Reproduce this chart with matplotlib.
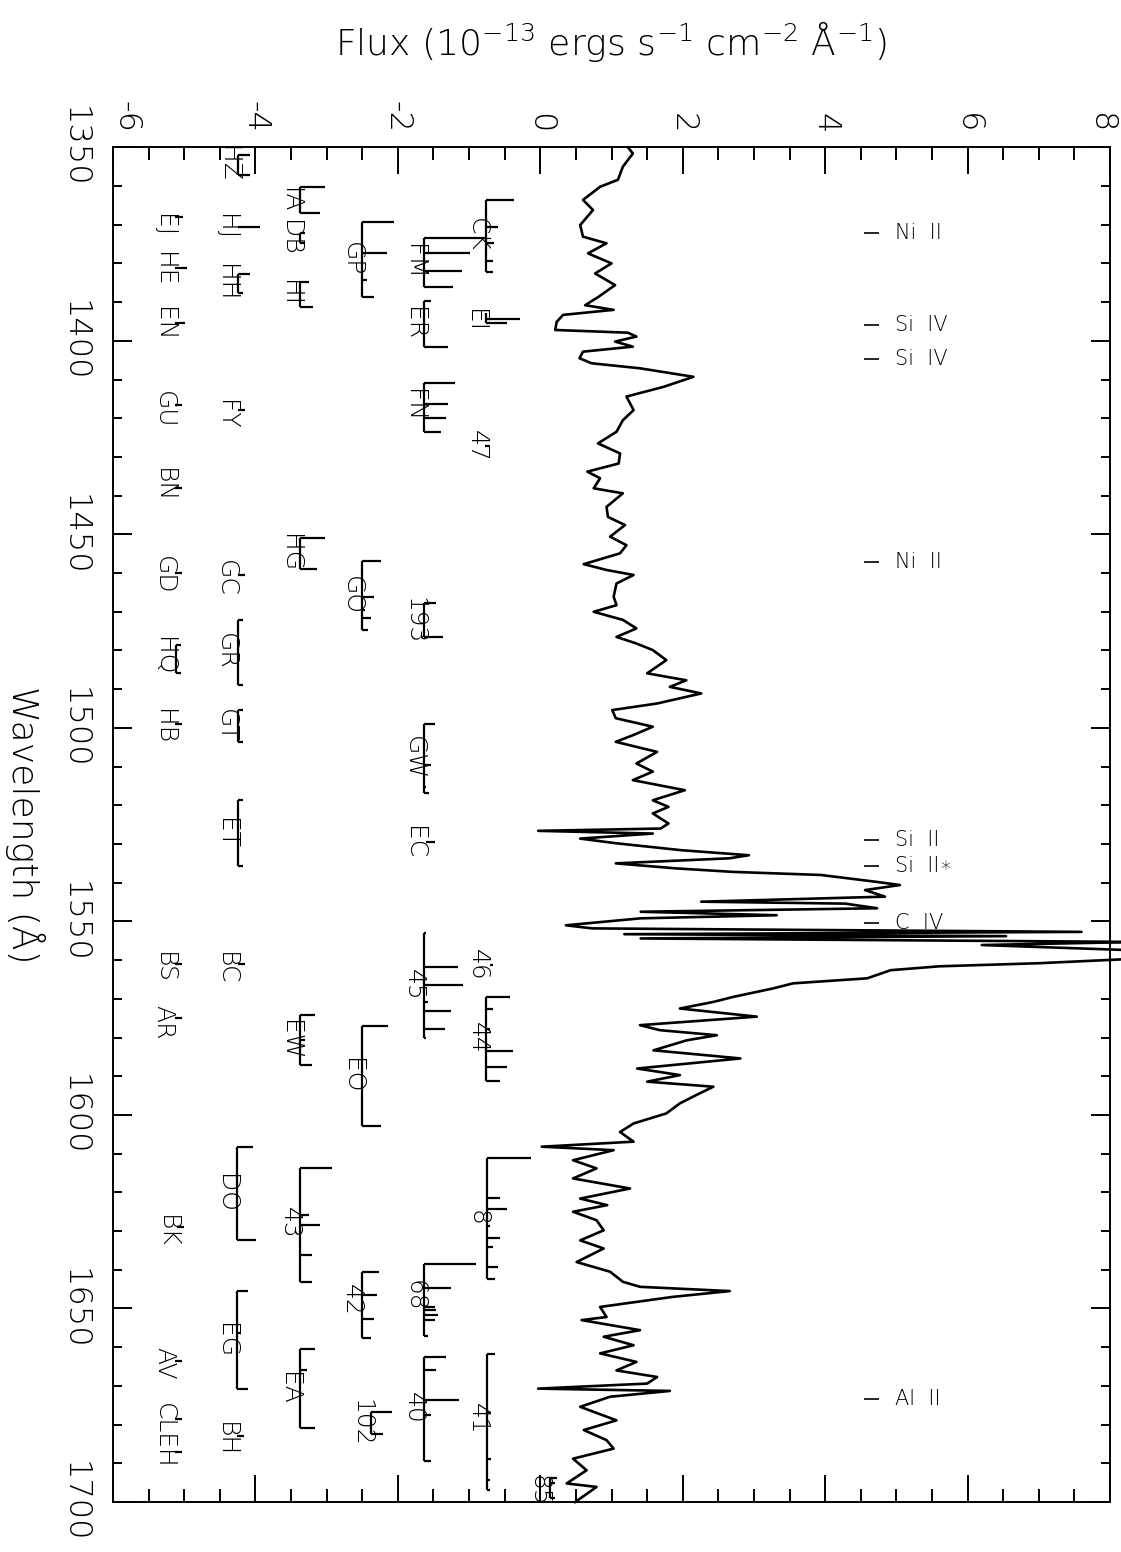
import matplotlib
matplotlib.use('Agg')
import matplotlib.pyplot as plt
import matplotlib.transforms as mtransforms
from matplotlib.ticker import MultipleLocator

plt.rcParams['font.family'] = ['DejaVu Sans']
plt.rcParams['font.weight'] = 200
plt.rcParams['axes.unicode_minus'] = False
plt.rcParams['mathtext.default'] = 'regular'

# spectrum (wavelength in A, flux in 1e-13 erg/s/cm2/A)
wave = [1350.0, 1351.6, 1355.0, 1358.4, 1360.2, 1363.6, 1366.2, 1370.1, 1373.1, 1374.8,
        1377.4, 1380.0, 1382.6, 1385.6, 1388.6, 1390.8, 1392.0, 1393.3, 1395.1, 1397.2,
        1397.9, 1398.9, 1400.2, 1401.5, 1402.8, 1404.5, 1405.8, 1407.1, 1409.3, 1411.9,
        1414.4, 1417.9, 1420.5, 1423.5, 1426.5, 1429.1, 1431.7, 1433.8, 1435.5, 1438.1,
        1439.4, 1442.9, 1445.5, 1447.6, 1450.6, 1452.8, 1454.9, 1457.7, 1459.2, 1460.5,
        1462.7, 1466.1, 1468.3, 1470.0, 1472.1, 1474.3, 1476.5, 1478.2, 1479.9, 1482.5,
        1485.9, 1487.7, 1489.4, 1491.1, 1493.7, 1495.4, 1497.5, 1499.7, 1501.9, 1503.6,
        1506.2, 1509.2, 1511.3, 1513.5, 1516.1, 1518.7, 1520.4, 1522.1, 1524.7, 1526.0,
        1526.6, 1527.3, 1528.6, 1529.8, 1531.6, 1532.9, 1533.7, 1535.0, 1536.3, 1537.2,
        1538.0, 1539.8, 1540.6, 1541.9, 1543.6, 1544.9, 1545.4, 1546.6, 1547.5, 1548.4,
        1549.2, 1551.0, 1551.8, 1552.7, 1553.3, 1553.8, 1554.4, 1555.3, 1556.1, 1557.5,
        1559.6, 1560.8, 1561.6, 1562.6, 1564.7, 1566.0, 1567.3, 1569.5, 1570.8, 1572.5,
        1574.6, 1576.8, 1578.1, 1579.4, 1580.7, 1583.3, 1585.4, 1588.0, 1589.7, 1591.4,
        1592.7, 1594.4, 1597.0, 1599.6, 1602.2, 1604.4, 1606.9, 1608.2, 1609.1, 1611.7,
        1613.8, 1616.4, 1619.0, 1621.6, 1623.3, 1625.0, 1627.2, 1629.8, 1632.4, 1634.5,
        1638.0, 1640.5, 1643.1, 1644.4, 1645.5, 1647.0, 1649.6, 1652.2, 1653.0, 1655.6,
        1657.3, 1659.5, 1661.6, 1663.8, 1666.0, 1667.7, 1669.4, 1670.7, 1671.3, 1672.8,
        1675.4, 1678.9, 1681.4, 1684.0, 1686.2, 1688.8, 1691.8, 1695.2, 1696.1, 1700.0]
flux = [1.23, 1.30, 1.16, 1.09, 0.84, 0.60, 0.74, 0.56, 0.60, 0.93,
        0.67, 1.00, 0.77, 1.05, 0.82, 0.63, 1.03, 0.32, 0.23, 0.21,
        1.23, 1.35, 1.05, 1.30, 0.60, 0.55, 0.72, 1.40, 2.15, 1.73,
        1.21, 1.31, 1.16, 1.07, 0.81, 1.12, 1.10, 0.66, 0.84, 0.75,
        1.16, 0.93, 0.95, 1.19, 0.98, 1.21, 1.12, 0.61, 0.93, 1.31,
        1.07, 1.03, 1.07, 0.75, 1.16, 1.35, 1.07, 1.35, 1.58, 1.77,
        1.50, 2.05, 1.82, 2.26, 1.64, 1.01, 1.06, 1.58, 1.30, 1.06,
        1.64, 1.35, 1.58, 1.30, 2.03, 1.58, 1.80, 1.58, 1.80, 1.69,
        -0.03, 1.58, 0.56, 1.06, 1.98, 2.93, 2.65, 1.06, 1.91, 2.70,
        3.94, 4.73, 5.05, 4.56, 4.84, 2.26, 4.28, 4.73, 1.41, 3.32,
        1.41, 0.36, 0.73, 7.60, 1.18, 6.54, 1.41, 8.40, 6.20, 8.40,
        8.40, 7.00, 5.60, 4.92, 4.59, 3.55, 3.27, 2.71, 2.43, 1.96,
        3.04, 1.40, 1.68, 2.48, 2.06, 1.59, 2.81, 1.36, 1.96, 1.50,
        2.43, 2.24, 1.96, 1.77, 1.31, 1.12, 1.31, 0.02, 1.03, 0.46,
        0.79, 0.46, 1.26, 0.56, 0.94, 0.46, 0.79, 0.89, 0.56, 0.89,
        0.51, 0.98, 1.16, 1.40, 2.66, 1.86, 0.84, 0.93, 0.58, 1.40,
        0.89, 1.31, 0.84, 1.35, 1.07, 1.64, 1.50, -0.03, 1.82, 0.98,
        0.56, 1.07, 0.61, 0.93, 1.03, 0.46, 0.65, 0.37, 0.79, 0.49]

# flux axis labels along the top
flux_ticks = [-6, -4, -2, 0, 2, 4, 6, 8]

# ions marked on the right
ion_names = ['Ni  II', 'Si  IV', 'Si  IV', 'Ni  II', 'Si  II', 'Si  II\u2217', 'C  IV', 'Al  II']
ion_waves = [1372.1, 1395.9, 1404.8, 1457.1, 1529.0, 1535.7, 1550.5, 1673.4]

# line-id labels: text, flux position, wavelength
id_text = ['HZ', 'IA', 'CK', 'HJ', 'DB', 'EJ', 'FM', 'GP', 'HE', 'HH', 'HI', 'ER', 'EI', 'EN',
           'FN', 'GU', 'FY', '47', 'BN', 'HG', 'GD', 'GC', 'GO', '193', 'HQ', 'GR', 'HB', 'GT',
           'GW', 'EC', 'ET', 'BC', 'BS', 'AR', '45', '46', '44', 'EO', 'EW', '8', 'DO', '43',
           'BK', '68', '42', 'EG', 'EA', '40', '102', '41', 'AV', 'BH', 'CLEH', '85']
id_flux = [-4.39, -3.52, -0.89, -4.41, -3.52, -5.29, -1.77, -2.64, -5.29, -4.41, -3.52, -1.77, -0.91, -5.29,
           -1.77, -5.29, -4.41, -0.89, -5.29, -3.52, -5.29, -4.41, -2.64, -1.77, -5.29, -4.41, -5.29, -4.41,
           -1.77, -1.78, -4.41, -4.41, -5.29, -5.29, -1.78, -0.88, -0.88, -2.65, -3.52, -0.88, -4.41, -3.52,
           -5.25, -1.77, -2.65, -4.41, -3.53, -1.77, -2.52, -0.88, -5.28, -4.41, -5.28, -0.02]
id_wave = [1354.3, 1363.6, 1372.7, 1370.5, 1373.5, 1370.1, 1379.7, 1378.9, 1381.4, 1385.1, 1387.7, 1395.5, 1394.8, 1395.7,
           1416.6, 1417.9, 1419.2, 1427.2, 1437.3, 1454.9, 1460.5, 1461.5, 1465.7, 1472.3, 1481.6, 1480.3, 1499.7, 1499.5,
           1507.9, 1529.6, 1527.2, 1562.1, 1562.1, 1576.0, 1566.5, 1561.3, 1580.2, 1589.8, 1580.7, 1626.7, 1620.3, 1628.0,
           1630.2, 1646.7, 1647.8, 1658.4, 1670.7, 1675.8, 1679.5, 1678.4, 1664.2, 1684.0, 1682.9, 1697.0]

# multiplet brackets: spine flux, tick wavelengths, tick end fluxes
br_base = [-4.24, -3.38, -0.76, -3.38, -1.63, -2.50, -4.24, -3.38, -1.63, -0.76,
           -1.63, -3.38, -2.50, -1.63, -5.11, -4.24, -4.24, -1.63, -4.24, -1.63,
           -0.76, -2.51, -3.38, -0.75, -4.26, -3.38, -1.63, -2.51, -4.26, -3.38,
           -1.63, -2.38, -0.75, 0.13]
br_waves = [[1352.0, 1357.2], [1360.3, 1367.1], [1363.6, 1370.5, 1374.8, 1379.4, 1382.1],
            [1372.2, 1374.8], [1373.5, 1377.4, 1381.9, 1386.0], [1369.2, 1377.4, 1384.3, 1388.6],
            [1382.7, 1387.6], [1384.9, 1391.2], [1389.7, 1401.5], [1392.9, 1394.4, 1395.3],
            [1411.0, 1416.2, 1420.0, 1423.5], [1450.9, 1459.0],
            [1456.9, 1466.1, 1469.6, 1471.7, 1474.7], [1467.7, 1476.6], [1478.6, 1485.9],
            [1472.1, 1488.9], [1495.4, 1503.6], [1499.0, 1509.6, 1515.2, 1516.9], [1518.7, 1535.8],
            [1553.1, 1561.7, 1566.5, 1570.8, 1573.1, 1577.7, 1580.0],
            [1569.6, 1572.5, 1577.7, 1583.4, 1587.7, 1591.3], [1577.0, 1602.8], [1574.2, 1580.7, 1587.1],
            [1611.2, 1621.4, 1624.4, 1628.7, 1631.9, 1634.1, 1639.3, 1642.4], [1608.2, 1632.3],
            [1613.8, 1625.9, 1628.5, 1636.2, 1643.1],
            [1638.4, 1644.7, 1649.6, 1650.4, 1651.7, 1653.0, 1657.1], [1640.5, 1646.4, 1652.6, 1657.6],
            [1645.5, 1656.3, 1670.9], [1660.5, 1665.9, 1680.9], [1662.5, 1665.9, 1673.7, 1677.6, 1689.5],
            [1676.7, 1682.3], [1661.8, 1677.1, 1689.0, 1694.4, 1697.0], [1693.9, 1695.2, 1699.0]]
br_ends = [[-4.08, -4.08], [-3.02, -3.09], [-0.37, -0.60, -0.65, -0.67, -0.67],
           [-3.31, -3.31], [-0.76, -0.98, -1.10, -1.23], [-2.05, -2.15, -2.43, -2.34],
           [-4.07, -4.18], [-3.25, -3.19], [-1.54, -1.29], [-0.76, -0.28, -0.47],
           [-1.20, -1.30, -1.33, -1.40], [-3.03, -3.13],
           [-2.23, -2.33, -2.46, -2.38, -2.42], [-1.47, -1.37], [-5.04, -5.04],
           [-4.18, -4.18], [-4.18, -4.18], [-1.48, -1.53, -1.60, -1.56], [-4.18, -4.18],
           [-1.60, -1.16, -1.08, -1.57, -1.26, -1.34, -1.60],
           [-0.42, -0.67, -0.71, -0.39, -0.47, -0.57], [-2.14, -2.24], [-3.17, -3.30, -3.20],
           [-0.13, -0.57, -0.47, -0.71, -0.56, -0.66, -0.59, -0.64], [-4.03, -3.99],
           [-2.92, -3.25, -3.09, -3.20, -3.21],
           [-0.90, -1.25, -1.48, -1.46, -1.44, -1.48, -1.58], [-2.26, -2.29, -2.33, -2.38],
           [-4.10, -4.20, -4.10], [-3.16, -3.27, -3.16], [-1.33, -1.47, -1.14, -1.53, -1.53],
           [-2.08, -2.21], [-0.63, -0.69, -0.69, -0.71, -0.71], [0.23, 0.20, 0.20]]

# single line marks: wavelength, start flux, end flux
mk_wave = [1370.5, 1368.0, 1381.3, 1395.3, 1416.5, 1418.0, 1427.2, 1438.1, 1460.0, 1460.5,
           1499.0, 1529.6, 1561.0, 1561.0, 1575.0, 1561.3, 1629.0, 1663.5, 1683.0, 1678.5, 1687.0]
mk_start = [-4.24, -5.13, -5.13, -5.13, -5.13, -4.24, -0.78, -5.13, -5.13, -4.24,
            -5.13, -1.61, -4.24, -5.13, -5.13, -0.71, -5.10, -5.13, -4.26, -5.13, -5.13]
mk_end = [-3.93, -5.02, -4.96, -4.99, -5.03, -4.15, -0.70, -5.03, -5.03, -4.15,
          -5.03, -1.48, -4.15, -5.03, -5.03, -0.67, -5.00, -5.03, -4.16, -5.03, -5.03]

fig = plt.figure(figsize=(11.21, 15.52), dpi=100)
ax = fig.add_axes([0.1008, 0.0322, 0.8894, 0.8729])

ax.plot(flux, wave, color='black', lw=1.9, clip_on=False)

lw = 1.6
for b, ws, es in zip(br_base, br_waves, br_ends):
    ax.vlines(b, min(ws), max(ws), color='black', lw=lw)
    ax.hlines(ws, b, es, color='black', lw=lw)
ax.hlines(mk_wave, mk_start, mk_end, color='black', lw=lw)

for t, fx, w in zip(id_text, id_flux, id_wave):
    ax.text(fx, w, t, rotation=-90, ha='center', va='center', fontsize=18)

for name, w in zip(ion_names, ion_waves):
    ax.hlines(w, 4.55, 4.76, color='black', lw=1.2)
    ax.text(4.98, w, name, ha='left', va='center', fontsize=15)

ax.set_xlim(-6, 8)
ax.set_ylim(1700, 1350)
ax.xaxis.set_major_locator(MultipleLocator(2))
ax.xaxis.set_minor_locator(MultipleLocator(0.5))
ax.yaxis.set_major_locator(MultipleLocator(50))
ax.yaxis.set_minor_locator(MultipleLocator(10))

ax.tick_params(axis='x', which='both', direction='in', top=True, bottom=True,
               labeltop=False, labelbottom=False, width=1.4)
ax.tick_params(axis='x', which='major', length=19.5)
ax.tick_params(axis='x', which='minor', length=9.5)
ax.tick_params(axis='y', which='both', direction='in', left=True, right=True,
               labelleft=True, width=1.4, labelsize=23, labelrotation=-90, pad=17)
ax.tick_params(axis='y', which='major', length=14)
ax.tick_params(axis='y', which='minor', length=6.5)
for lab in ax.get_yticklabels():
    lab.set_verticalalignment('center')
for s in ax.spines.values():
    s.set_linewidth(1.4)

# flux labels above the frame; the end ones sit a little inside
top = ax.get_xaxis_transform()
for i, v in enumerate(flux_ticks):
    dx = 0.14 if i == 0 else (-0.09 if i == len(flux_ticks) - 1 else 0)
    tr = top + mtransforms.ScaledTranslation(dx, 0.14, fig.dpi_scale_trans)
    ax.text(v, 1, str(v), transform=tr, rotation=-90, ha='center', va='bottom',
            fontsize=23)

fig.text(611 / 1121, 1 - 42 / 1552,
         'Flux (10$^{-13}$ ergs s$^{-1}$ cm$^{-2}$ \u00c5$^{-1}$)',
         ha='center', va='center', fontsize=26)
fig.text(25 / 1121, 1 - 825 / 1552, 'Wavelength (\u00c5)',
         rotation=-90, ha='center', va='center', fontsize=26)

fig.savefig('out.png', dpi=100)
